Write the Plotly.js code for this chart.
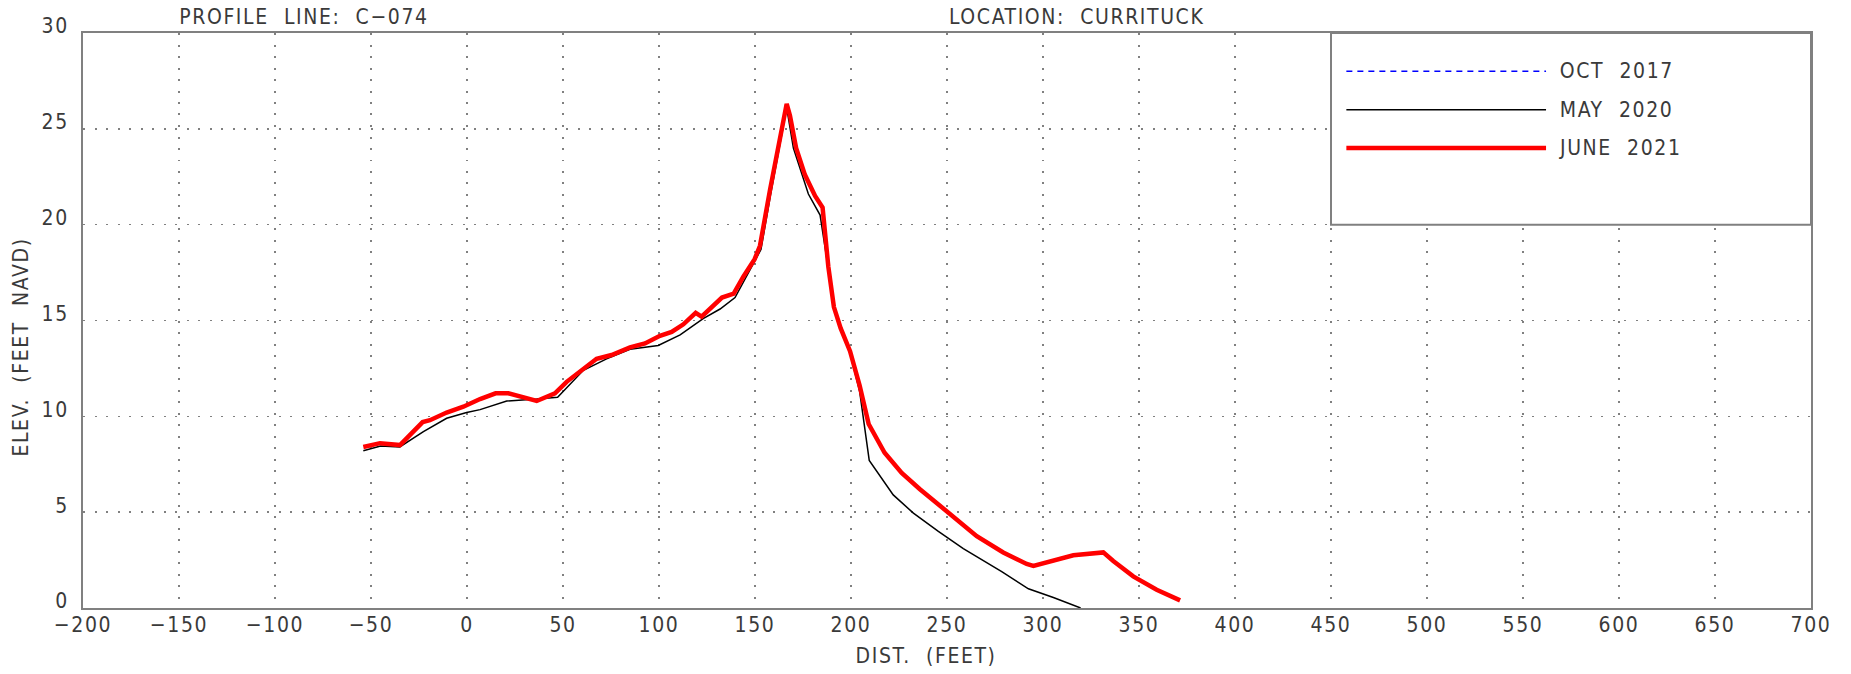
<!DOCTYPE html>
<html>
<head>
<meta charset="utf-8">
<script src="https://cdn.plot.ly/plotly-3.0.1.min.js"></script>
<style>
html,body{margin:0;padding:0;background:#fff;}
#chart{width:1851px;height:674px;}
#chart text{letter-spacing:1.6px;}
</style>
</head>
<body>
<div id="chart"></div>
<script>
// ---- data ----
const june2021X = [-54, -45.3, -34.9, -23.1, -19.3, -10.6, -1.9, 6.8, 14.9, 21.5, 36.3, 45.8, 51.9, 60.6, 67.5, 75.3, 84.9, 92.7, 100.5, 106.6, 112.7, 119.1, 122.2, 132.8, 138.9, 144, 149.8, 152.6, 157.8, 166.5, 168.2, 171.4, 176, 181.3, 185.2, 188.2, 191.1, 194.6, 199.5, 204.5, 209.2, 217.5, 226.4, 235.9, 249.8, 265.5, 279.3, 291.5, 295, 305.4, 315.8, 331.4, 336.6, 347, 359.2, 371.4];
const june2021Y = [8.4, 8.6, 8.5, 9.7, 9.8, 10.2, 10.5, 10.9, 11.2, 11.2, 10.8, 11.2, 11.8, 12.5, 13.0, 13.2, 13.6, 13.8, 14.2, 14.4, 14.8, 15.4, 15.2, 16.2, 16.4, 17.3, 18.2, 18.9, 21.8, 26.3, 25.7, 24.0, 22.6, 21.5, 20.9, 17.8, 15.7, 14.6, 13.4, 11.6, 9.6, 8.1, 7.05, 6.2, 5.05, 3.75, 2.9, 2.3, 2.2, 2.5, 2.75, 2.9, 2.45, 1.65, 0.95, 0.4];
const may2020X = [-54, -45, -35, -22.7, -10.6, -0.2, 6.8, 20.7, 36.3, 47.2, 60.6, 72.7, 84.9, 99.6, 111, 123, 131.8, 139.6, 153.1, 158, 166.5, 170, 177.8, 183.9, 188.2, 191.1, 194.6, 199.5, 204.5, 209.5, 222, 232.5, 245.5, 258.5, 278.5, 292.4, 305.4, 319.6];
const may2020Y = [8.2, 8.45, 8.4, 9.2, 9.9, 10.2, 10.35, 10.8, 10.9, 11.0, 12.4, 13.0, 13.5, 13.7, 14.25, 15.1, 15.6, 16.2, 18.7, 21.5, 26.1, 24.0, 21.6, 20.5, 17.7, 15.6, 14.5, 13.3, 11.3, 7.7, 5.9, 4.95, 4.0, 3.1, 1.9, 1.0, 0.55, 0.0];
const oct2017X = [];
const oct2017Y = [];
const seriesNames = ['OCT\u00a0 2017', 'MAY\u00a0 2020', 'JUNE\u00a0 2021'];
const xTickVals = [-200, -150, -100, -50, 0, 50, 100, 150, 200, 250, 300, 350, 400, 450, 500, 550, 600, 650, 700];
const yTickVals = [0, 5, 10, 15, 20, 25, 30];
const profileTitle = 'PROFILE\u00a0 LINE:\u00a0 C\u2212074';
const locationTitle = 'LOCATION:\u00a0 CURRITUCK';
const xTitle = 'DIST.\u00a0 (FEET)';
const yTitle = 'ELEV.\u00a0 (FEET\u00a0 NAVD)';

const FONT = 'Liberation Sans Narrow, DejaVu Sans Condensed, Liberation Sans, sans-serif';
const TXT = '#3a3a3a';
const AX = '#808080';

const traces = [
  {x: oct2017X, y: oct2017Y, mode: 'lines', name: seriesNames[0], line: {color: '#0000ff', width: 1.5, dash: '6px,5px'}, showlegend: false},
  {x: may2020X, y: may2020Y, mode: 'lines', name: seriesNames[1], line: {color: '#000000', width: 1.5}, showlegend: false},
  {x: june2021X, y: june2021Y, mode: 'lines', name: seriesNames[2], line: {color: '#ff0000', width: 4.5}, showlegend: false}
];

const legendRowsY = [28, 26, 24];
const legendStyles = [
  {color: '#0000ff', width: 1.5, dash: '6px,5px'},
  {color: '#000000', width: 1.5, dash: 'solid'},
  {color: '#ff0000', width: 4.5, dash: 'solid'}
];

const shapes = [
  {type: 'rect', xref: 'x', yref: 'y', x0: 450, x1: 700, y0: 20, y1: 30, fillcolor: '#ffffff', line: {color: AX, width: 2}, layer: 'above'}
];
legendRowsY.forEach((yy, i) => {
  shapes.push({type: 'line', xref: 'x', yref: 'y', x0: 458, x1: 562, y0: yy, y1: yy, line: legendStyles[i], layer: 'above'});
});

const annotations = [
  {text: profileTitle, xref: 'paper', yref: 'paper', x: 0.128, y: 1, yshift: 16, xanchor: 'center', yanchor: 'middle', showarrow: false, font: {family: FONT, size: 21, color: TXT}},
  {text: locationTitle, xref: 'paper', yref: 'paper', x: 0.575, y: 1, yshift: 16, xanchor: 'center', yanchor: 'middle', showarrow: false, font: {family: FONT, size: 21, color: TXT}},
  {text: xTitle, xref: 'paper', yref: 'paper', x: 0.488, y: 0, yshift: -48, xanchor: 'center', yanchor: 'middle', showarrow: false, font: {family: FONT, size: 21, color: TXT}},
  {text: yTitle, xref: 'paper', yref: 'paper', x: -0.0359, y: 0.455, xanchor: 'center', yanchor: 'middle', textangle: -90, showarrow: false, font: {family: FONT, size: 21, color: TXT}}
];
legendRowsY.forEach((yy, i) => {
  annotations.push({text: seriesNames[i], xref: 'x', yref: 'y', x: 572, y: yy, xanchor: 'left', yanchor: 'middle', showarrow: false, font: {family: FONT, size: 21, color: TXT}});
});

const layout = {
  width: 1851, height: 674,
  margin: {l: 83, r: 40, t: 33, b: 66, pad: 0},
  paper_bgcolor: '#ffffff', plot_bgcolor: '#ffffff',
  showlegend: false,
  font: {family: FONT, size: 21, color: TXT},
  xaxis: {
    range: [-200, 700], tickvals: xTickVals, ticks: '', showline: true, linecolor: AX, linewidth: 2, mirror: true,
    showgrid: true, gridcolor: AX, gridwidth: 1.6, griddash: '2px,9.5px', zeroline: false,
    tickfont: {family: FONT, size: 21, color: TXT}, ticklabelstandoff: -3
  },
  yaxis: {
    range: [0, 30], tickvals: yTickVals, ticks: '', showline: true, linecolor: AX, linewidth: 2, mirror: true,
    showgrid: true, gridcolor: AX, gridwidth: 1.6, griddash: '2px,9.5px', zeroline: false,
    tickfont: {family: FONT, size: 21, color: TXT}, ticklabelposition: 'outside', ticklabelshift: -7, ticklabelstandoff: 8
  },
  shapes: shapes,
  annotations: annotations
};

Plotly.newPlot('chart', traces, layout, {displayModeBar: false, staticPlot: true});
</script>
</body>
</html>
